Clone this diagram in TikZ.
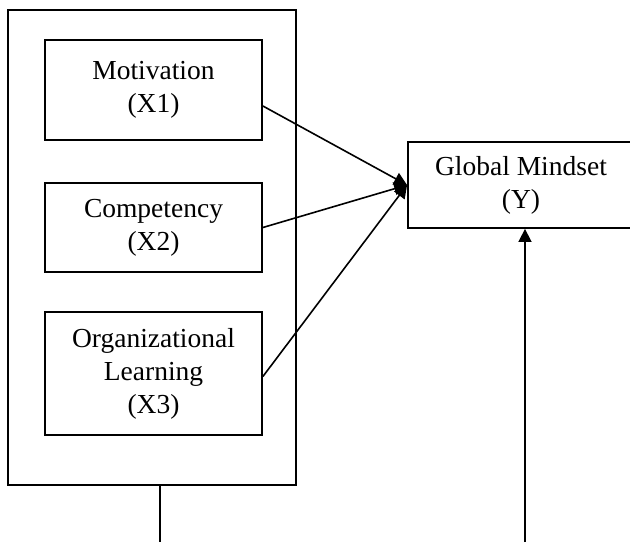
\documentclass[tikz,border=0pt]{standalone}
\usepackage{fontspec}
\setmainfont{Liberation Serif}
\usetikzlibrary{arrows.meta}
\begin{document}
\begin{tikzpicture}[x=1pt,y=-1pt,
  box/.style={draw,line width=1.8pt,inner sep=0pt,align=center,
    font=\fontsize{27.5}{33}\selectfont},
  link/.style={line width=1.6pt,-{Triangle[length=13pt,width=13pt]}},
  plain/.style={line width=1.8pt}]
\clip (0,0) rectangle (630,542);
\node[box,minimum width=288pt,minimum height=475pt] (o) at (152,247.5) {};
\node[box,minimum width=217pt,minimum height=100pt] (m) at (153.5,90) {Motivation\\(X1)};
\node[box,minimum width=217pt,minimum height=89pt] (c) at (153.5,227.5) {Competency\\(X2)};
\node[box,minimum width=217pt,minimum height=123pt] (l) at (153.5,373.5) {Organizational\\Learning\\(X3)};
\node[box,minimum width=226pt,minimum height=86pt] (g) at (521,185) {Global Mindset\\(Y)};
\coordinate (b1) at (160,542);
\coordinate (b2) at (525,542);
\draw[link] ([yshift=-16pt]m.east) -- (g.west);
\draw[link] (c.east) -- (g.west);
\draw[link] ([yshift=-3pt]l.east) -- (g.west);
\draw[plain] (o.south -| b1) -- (b1);
\draw[link] (b2) -- (g.south -| b2);
\end{tikzpicture}
\end{document}
